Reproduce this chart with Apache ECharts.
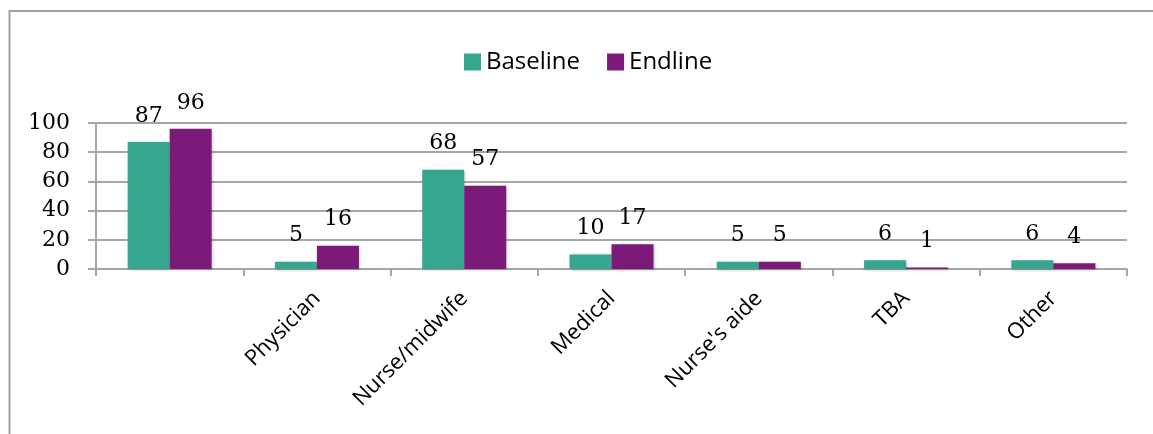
<!DOCTYPE html>
<html>
<head>
<meta charset="utf-8">
<script src="https://cdn.jsdelivr.net/npm/echarts@6/dist/echarts.min.js"></script>
<style>
  html, body { margin: 0; padding: 0; background: #fff; }
  #main { width: 1153px; height: 434px; }
</style>
</head>
<body>
<div id="main"></div>
<script>
// first category has no label in the source chart
var categories = ['', 'Physician', 'Nurse/midwife', 'Medical', "Nurse's aide", 'TBA', 'Other'];
var baseline = [87, 5, 68, 10, 5, 6, 6];
var endline = [96, 16, 57, 17, 5, 1, 4];
var yTicks = [0, 20, 40, 60, 80, 100];

var serif = "'DejaVu Serif', 'Liberation Serif', serif";
var sans = "'Open Sans', 'Noto Sans', sans-serif";

var chart = echarts.init(document.getElementById('main'), null, { renderer: 'canvas' });

function barLabel() {
  return {
    show: true,
    position: 'top',
    distance: 15,
    color: '#000',
    fontFamily: serif,
    fontSize: 22
  };
}

var option = {
  backgroundColor: '#fff',
  animation: false,
  graphic: [{
    type: 'rect',
    shape: { x: 9.5, y: 11, width: 1300, height: 600 },
    style: { fill: 'none', stroke: '#a0a0a0', lineWidth: 2 },
    silent: true
  }],
  legend: {
    data: ['Baseline', 'Endline'],
    top: 45,
    left: 459,
    itemWidth: 17,
    itemHeight: 17,
    itemGap: 27,
    icon: 'rect',
    textStyle: { fontFamily: sans, fontSize: 24, color: '#000' }
  },
  grid: { left: 96, right: 26, top: 123, bottom: 165 },
  xAxis: {
    type: 'category',
    data: categories,
    axisLine: { show: true, lineStyle: { color: '#a6a6a6', width: 2 } },
    axisTick: { show: true, alignWithLabel: false, length: 7, lineStyle: { color: '#a6a6a6', width: 2 } },
    axisLabel: {
      interval: 0,
      rotate: 45,
      margin: 26,
      color: '#000',
      fontFamily: sans,
      fontSize: 22
    }
  },
  yAxis: {
    type: 'value',
    min: 0,
    max: 100,
    interval: 20,
    axisLine: { show: true, lineStyle: { color: '#a6a6a6', width: 2 } },
    axisTick: { show: true, length: 8, lineStyle: { color: '#a6a6a6', width: 2 } },
    splitLine: { show: true, lineStyle: { color: '#a6a6a6', width: 2 } },
    axisLabel: {
      margin: 26,
      padding: [6, 0, 0, 0],
      color: '#000',
      fontFamily: serif,
      fontSize: 22,
      formatter: function (v) { return yTicks.indexOf(v) >= 0 ? String(v) : ''; }
    }
  },
  series: [
    {
      name: 'Baseline',
      type: 'bar',
      data: baseline,
      barWidth: 42,
      barGap: '0%',
      itemStyle: { color: '#37a68e', shadowColor: 'rgba(0,0,0,0.25)', shadowBlur: 3, shadowOffsetX: 1, shadowOffsetY: 1 },
      label: barLabel()
    },
    {
      name: 'Endline',
      type: 'bar',
      data: endline,
      barWidth: 42,
      barGap: '0%',
      itemStyle: { color: '#7b1a78', shadowColor: 'rgba(0,0,0,0.25)', shadowBlur: 3, shadowOffsetX: 1, shadowOffsetY: 1 },
      label: barLabel()
    }
  ]
};

chart.setOption(option);
</script>
</body>
</html>
